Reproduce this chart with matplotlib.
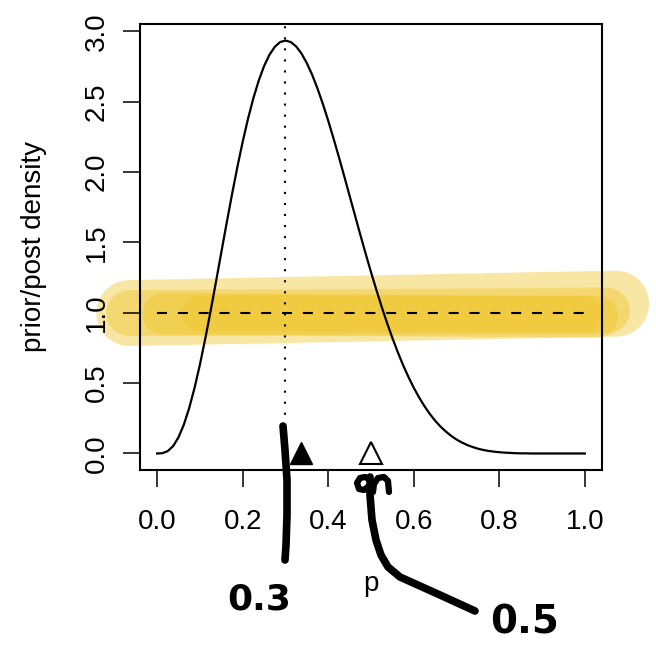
import matplotlib
matplotlib.use("Agg")
import matplotlib.pyplot as plt

# posterior density of p
p_grid = [0.0000, 0.0125, 0.0250, 0.0375, 0.0500, 0.0625, 0.0750, 0.0875, 0.1000,
          0.1125, 0.1250, 0.1375, 0.1500, 0.1625, 0.1750, 0.1875, 0.2000, 0.2125,
          0.2250, 0.2375, 0.2500, 0.2625, 0.2750, 0.2875, 0.3000, 0.3125, 0.3250,
          0.3375, 0.3500, 0.3625, 0.3750, 0.3875, 0.4000, 0.4125, 0.4250, 0.4375,
          0.4500, 0.4625, 0.4750, 0.4875, 0.5000, 0.5125, 0.5250, 0.5375, 0.5500,
          0.5625, 0.5750, 0.5875, 0.6000, 0.6125, 0.6250, 0.6375, 0.6500, 0.6625,
          0.6750, 0.6875, 0.7000, 0.7125, 0.7250, 0.7375, 0.7500, 0.7625, 0.7750,
          0.7875, 0.8000, 0.8125, 0.8250, 0.8375, 0.8500, 0.8625, 0.8750, 0.8875,
          0.9000, 0.9125, 0.9250, 0.9375, 0.9500, 0.9625, 0.9750, 0.9875, 1.0000]
post_dens = [0.000, 0.002, 0.017, 0.053, 0.115, 0.205, 0.323, 0.466, 0.631,
             0.815, 1.012, 1.218, 1.428, 1.637, 1.840, 2.034, 2.215, 2.379,
             2.525, 2.650, 2.753, 2.833, 2.890, 2.924, 2.935, 2.924, 2.893,
             2.843, 2.774, 2.691, 2.593, 2.484, 2.365, 2.238, 2.106, 1.970,
             1.831, 1.693, 1.555, 1.420, 1.289, 1.163, 1.042, 0.928, 0.821,
             0.721, 0.628, 0.544, 0.467, 0.398, 0.336, 0.281, 0.233, 0.191,
             0.156, 0.125, 0.099, 0.078, 0.060, 0.046, 0.034, 0.025, 0.018,
             0.013, 0.009, 0.006, 0.004, 0.002, 0.001, 0.001, 0.000, 0.000,
             0.000, 0.000, 0.000, 0.000, 0.000, 0.000, 0.000, 0.000, 0.000]
prior_x = [0.0, 1.0]
prior_y = [1.0, 1.0]
post_mode = 0.3
obs_mean = 0.336   # filled triangle
null_p = 0.5       # open triangle

x_ticks = [0.0, 0.2, 0.4, 0.6, 0.8, 1.0]
y_ticks = [0.0, 0.5, 1.0, 1.5, 2.0, 2.5, 3.0]

plt.rcParams['font.family'] = ['Liberation Sans', 'DejaVu Sans']

fig = plt.figure(figsize=(6.56, 6.51), dpi=100)
ax = fig.add_axes([140 / 656, 1 - 470 / 651, 462 / 656, 446 / 651])

# highlighter strokes behind the prior line
gold = '#EFC428'
strokes = [((-0.065, 1.073), (0.998, 1.065), 47.5),
           ((-0.065, 1.052), (0.998, 1.015), 33),
           ((0.015, 1.029), (0.991, 0.972), 30),
           ((0.10, 1.0), (0.995, 0.99), 26)]
for xs, ys, w in strokes:
    ax.plot(xs, ys, color=gold, alpha=0.42, lw=w, solid_capstyle='round',
            clip_on=False, zorder=0.5)

ax.plot(p_grid, post_dens, color='black', lw=1.6, zorder=3)
ax.plot(prior_x, prior_y, color='black', lw=1.5, linestyle=(0, (4.8, 5.2)), zorder=3)
ax.axvline(post_mode, color='black', lw=1.5, linestyle=(0, (1, 4.3)), zorder=3)
ax.plot([obs_mean], [0], marker='^', ms=16.5, color='black', zorder=4, clip_on=False)
ax.plot([null_p], [0], marker='^', ms=16.5, mfc='white', mec='black', mew=1.5,
        zorder=4, clip_on=False)

ax.set_xlim(-0.04, 1.04)
ax.set_ylim(-0.1174, 3.0524)
ax.set_xticks(x_ticks)
ax.set_xticklabels([f'{v:.1f}' for v in x_ticks])
ax.set_yticks(y_ticks)
ax.set_yticklabels([f'{v:.1f}' for v in y_ticks], rotation=90, va='center')
ax.tick_params(length=12, width=1.1, labelsize=20)
ax.tick_params(axis='x', pad=16)
ax.tick_params(axis='y', pad=10)
for s in ax.spines.values():
    s.set_linewidth(1.5)
    s.set_zorder(5)
ax.set_ylabel('prior/post density', fontsize=20, labelpad=26)
ax.set_xlabel('p', fontsize=20, labelpad=26)

# hand-drawn annotations, in pixel coordinates
ov = fig.add_axes([0, 0, 1, 1], zorder=10)
ov.set_xlim(0, 656)
ov.set_ylim(651, 0)
ov.axis('off')
ov.patch.set_alpha(0)

ink = dict(color='black', solid_capstyle='round', solid_joinstyle='round')
ov.plot([283, 285, 287, 287, 286, 285], [426, 450, 480, 515, 545, 560], lw=5.5, **ink)
# "q" bowl and stem running down to the 0.5 label
ov.plot([369, 365, 360, 357, 359, 364, 369], [479, 477, 478, 483, 489, 490, 486],
        lw=4.5, **ink)
ov.plot([370, 370, 372, 376, 381, 388, 400, 440, 475],
        [477, 495, 520, 540, 555, 567, 577, 595, 611], lw=5.5, **ink)
# "n"
ov.plot([373, 374, 378, 384, 388, 389], [492, 484, 478, 477, 481, 492], lw=4.5, **ink)

ov.text(259, 600, '0.3', ha='center', va='center', fontsize=26,
        fontweight='heavy', family='DejaVu Sans')
ov.text(525, 622, '0.5', ha='center', va='center', fontsize=28,
        fontweight='heavy', family='DejaVu Sans')

fig.savefig('out.png', dpi=100)
